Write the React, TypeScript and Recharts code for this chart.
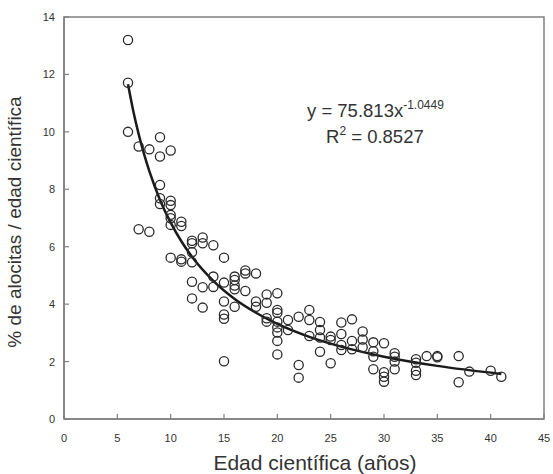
import React from 'react'
import {
  ComposedChart, Scatter, Line, XAxis, YAxis, ReferenceArea,
} from 'recharts'

// edad científica (años) de cada investigador
const edad = [
  6, 6, 6,
  7, 7,
  8, 8,
  9, 9, 9, 9, 9,
  10, 10, 10, 10, 10, 10, 10,
  11, 11, 11, 11,
  12, 12, 12, 12, 12, 12,
  13, 13, 13, 13,
  14, 14, 14,
  15, 15, 15, 15, 15, 15,
  16, 16, 16, 16, 16,
  17, 17, 17,
  18, 18, 18,
  19, 19, 19, 19,
  20, 20, 20, 20, 20, 20, 20, 20,
  21, 21,
  22, 22, 22,
  23, 23, 23,
  24, 24, 24, 24,
  25, 25, 25,
  26, 26, 26, 26,
  27, 27, 27,
  28, 28, 28,
  29, 29, 29, 29,
  30, 30, 30, 30,
  31, 31, 31, 31,
  33, 33, 33, 33,
  34,
  35, 35,
  37, 37,
  38,
  40,
  41,
]

// % de alocitas / edad científica
const alocitas = [
  13.2, 11.71, 10.0,
  9.49, 6.61,
  9.39, 6.52,
  9.81, 9.14, 8.15, 7.69, 7.49,
  9.35, 7.6, 7.45, 7.11, 6.99, 6.76, 5.62,
  6.87, 6.72, 5.56, 5.48,
  6.21, 6.12, 5.81, 5.46, 4.78, 4.2,
  6.32, 6.12, 4.59, 3.88,
  6.05, 4.96, 4.6,
  5.62, 4.75, 4.09, 3.64, 3.49, 2.01,
  4.96, 4.84, 4.65, 4.52, 3.91,
  5.17, 5.07, 4.46,
  5.07, 4.09, 3.91,
  4.34, 4.05, 3.51, 3.39,
  4.38, 3.8, 3.7, 3.39, 3.19, 3.01, 2.72, 2.25,
  3.45, 3.1,
  3.56, 1.88, 1.44,
  3.8, 3.45, 2.89,
  3.38, 3.1, 2.84, 2.34,
  2.87, 2.75, 1.94,
  3.36, 2.96, 2.58, 2.4,
  3.47, 2.72, 2.43,
  3.05, 2.77, 2.5,
  2.67, 2.36, 2.17, 1.73,
  2.64, 1.63, 1.47, 1.3,
  2.29, 2.17, 2.0, 1.73,
  2.08, 1.96, 1.68, 1.53,
  2.19,
  2.19, 2.15,
  2.19, 1.28,
  1.65,
  1.68,
  1.47,
]

// línea de tendencia (potencial)
const trendX = [6, 6.5, 7, 7.5, 8, 9, 10, 11, 12, 14, 16, 18, 20, 23, 26, 30, 35, 41]
const trendY = [11.66, 10.72, 9.92, 9.23, 8.63, 7.63, 6.84, 6.19, 5.65, 4.81, 4.18, 3.70, 3.31, 2.86, 2.52, 2.17, 1.85, 1.57]

const xTicks = [0, 5, 10, 15, 20, 25, 30, 35, 40, 45]
const yTicks = [0, 2, 4, 6, 8, 10, 12, 14]

const points = edad.map((x, i) => ({ x, y: alocitas[i] }))
const trend = trendX.map((x, i) => ({ x, y: trendY[i] }))

const font = '"Liberation Sans", Arial, sans-serif'
const textColor = '#333333'
const axisColor = '#808080'

const XTick = ({ x, y, payload }: any) => (
  <g>
    <line x1={x} x2={x} y1={y} y2={y - 5} stroke={axisColor} strokeWidth={1.2} />
    <text x={x} y={y + 23} textAnchor="middle" fontSize={11} fontFamily={font} fill={textColor}>
      {payload.value}
    </text>
  </g>
)

const YTick = ({ x, y, payload }: any) => (
  <g>
    <line x1={x} x2={x + 5} y1={y} y2={y} stroke={axisColor} strokeWidth={1.2} />
    <text x={x - 9} y={y + 4} textAnchor="end" fontSize={11} fontFamily={font} fill={textColor}>
      {payload.value}
    </text>
  </g>
)

const OpenCircle = ({ cx, cy }: any) => (
  <circle cx={cx} cy={cy} r={4.6} fill="none" stroke="#2a2a2a" strokeWidth={1.3} />
)

export default function App() {
  return (
    <div style={{ position: 'absolute', left: 0, top: 0, width: 553, height: 474, background: '#fff' }}>
      <ComposedChart
        width={553}
        height={474}
        margin={{ top: 17, right: 9, left: 24, bottom: 25 }}
      >
        <XAxis
          type="number"
          dataKey="x"
          domain={[0, 45]}
          ticks={xTicks}
          tickSize={0}
          tickMargin={0}
          height={30}
          tick={<XTick />}
          axisLine={{ stroke: axisColor, strokeWidth: 1.5 }}
          tickLine={false}
          allowDataOverflow
        />
        <YAxis
          type="number"
          dataKey="y"
          domain={[0, 14]}
          ticks={yTicks}
          tickSize={0}
          tickMargin={0}
          width={40}
          tick={<YTick />}
          axisLine={{ stroke: axisColor, strokeWidth: 1.5 }}
          tickLine={false}
          allowDataOverflow
        />
        <ReferenceArea x1={0} x2={45} y1={0} y2={14} fill="none" stroke={axisColor} strokeWidth={1.5} />
        <Scatter data={points} dataKey="y" shape={<OpenCircle />} isAnimationActive={false} />
        <Line
          data={trend}
          dataKey="y"
          type="monotone"
          stroke="#1a1a1a"
          strokeWidth={2.5}
          dot={false}
          activeDot={false}
          isAnimationActive={false}
        />
      </ComposedChart>
      <svg
        width={553}
        height={474}
        style={{ position: 'absolute', left: 0, top: 0, pointerEvents: 'none' }}
      >
        <text x={307} y={117} fontSize={18.5} fontFamily={font} fill={textColor}>
          y = 75.813x
          <tspan dy={-8} fontSize={12}>-1.0449</tspan>
        </text>
        <text x={326} y={143} fontSize={18.5} fontFamily={font} fill={textColor}>
          R
          <tspan dy={-8} fontSize={12}>2</tspan>
          <tspan dy={8}> = 0.8527</tspan>
        </text>
        <text x={315} y={470} textAnchor="middle" fontSize={21} fontFamily={font} fill={textColor}>
          Edad científica (años)
        </text>
        <text
          x={21}
          y={222}
          textAnchor="middle"
          fontSize={19}
          fontFamily={font}
          fill={textColor}
          transform="rotate(-90, 21, 222)"
        >
          % de alocitas / edad científica
        </text>
      </svg>
    </div>
  )
}
